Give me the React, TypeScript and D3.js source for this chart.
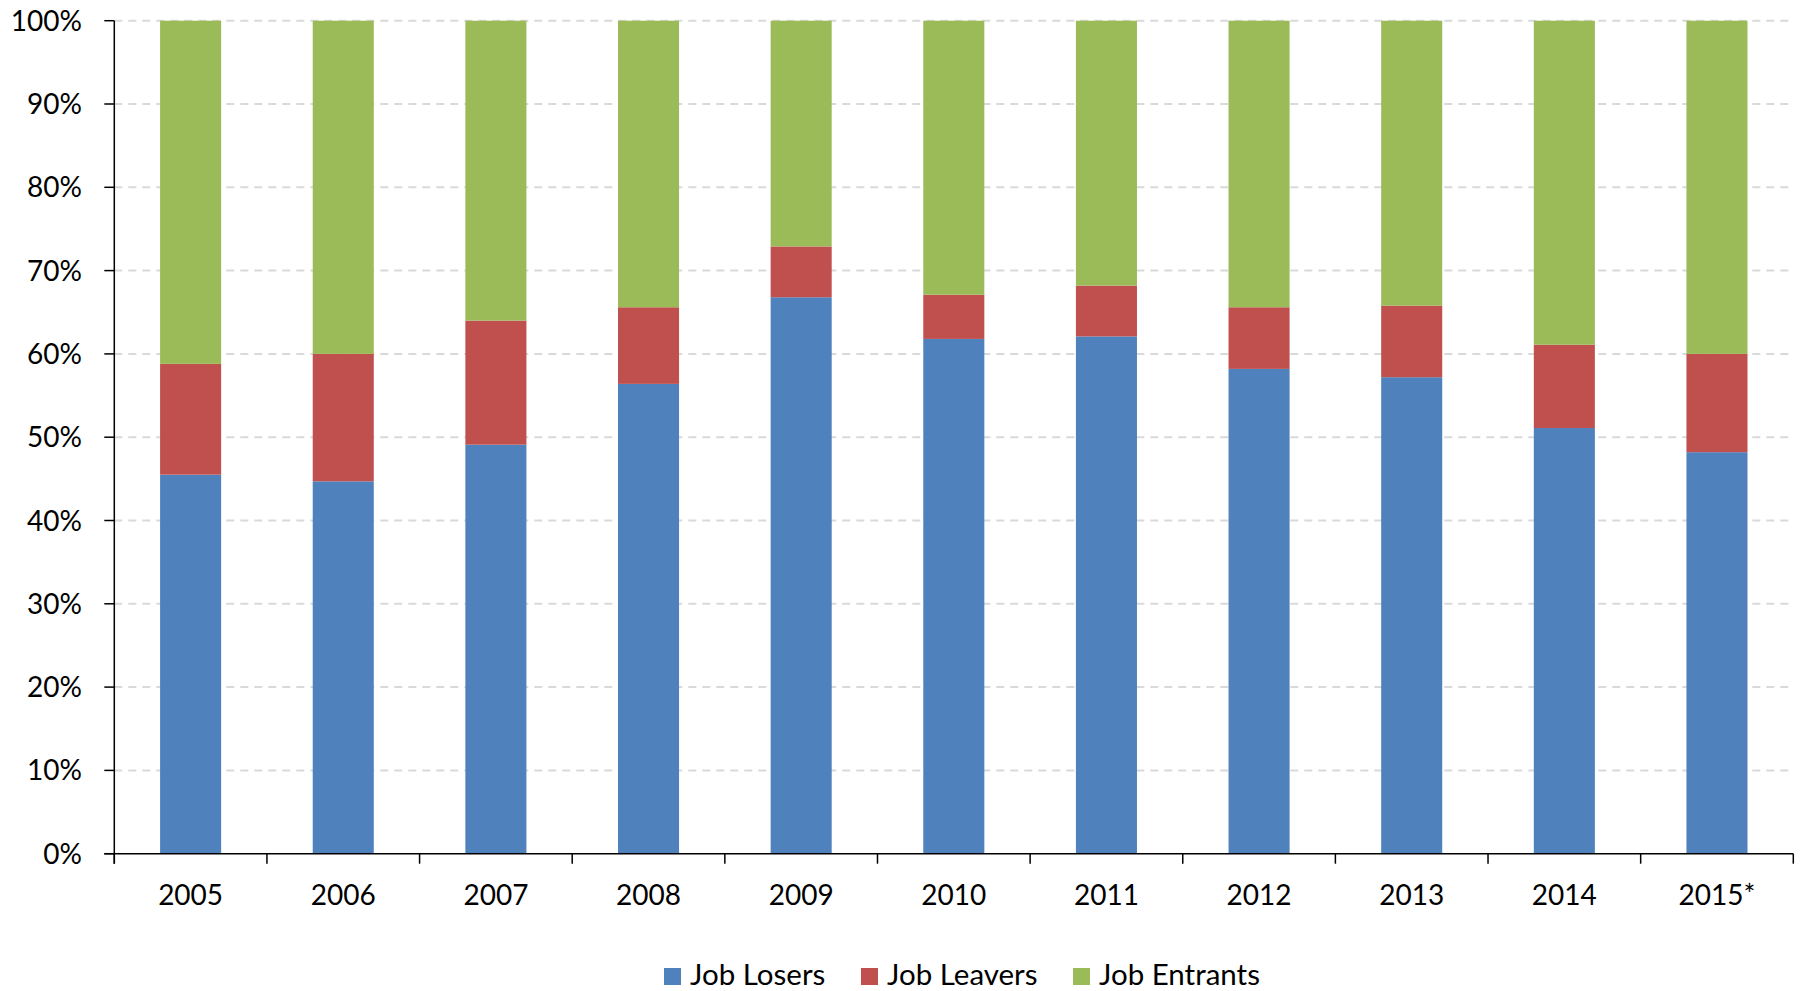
import React from "react";
import * as d3 from "d3";

const categories = ["2005", "2006", "2007", "2008", "2009", "2010", "2011", "2012", "2013", "2014", "2015*"];
const jobLosers = [45.5, 44.7, 49.1, 56.4, 66.8, 61.8, 62.1, 58.2, 57.2, 51.1, 48.2];
const jobLeavers = [13.3, 15.3, 14.9, 9.2, 6.1, 5.3, 6.1, 7.4, 8.6, 10.0, 11.8];
const jobEntrants = [41.2, 40.0, 36.0, 34.4, 27.1, 32.9, 31.8, 34.4, 34.2, 38.9, 40.0];
const seriesNames = ["Job Losers", "Job Leavers", "Job Entrants"];
const seriesColors = ["#4F81BD", "#C0504D", "#9BBB59"];
const yTicks = [0, 10, 20, 30, 40, 50, 60, 70, 80, 90, 100];

const W = 1802;
const H = 991;
const left = 114.3;
const right = 1793.3;
const top = 20.7;
const bottom = 853.7;
const FONT = "Lato, 'Open Sans', sans-serif";

export default function App() {
  const x = d3.scaleBand<string>().domain(categories).range([left, right]).paddingInner(0.6).paddingOuter(0.3);
  const y = d3.scaleLinear().domain([0, 100]).range([bottom, top]);

  const rows = categories.map((c, i) => ({
    cat: c,
    "Job Losers": jobLosers[i],
    "Job Leavers": jobLeavers[i],
    "Job Entrants": jobEntrants[i],
  }));
  const stack = d3.stack<any>().keys(seriesNames)(rows);

  const step = x.step();
  const boundaries = d3.range(categories.length + 1).map((i) => left + i * step);

  const legendX = [664, 861, 1073];

  return (
    <svg width={W} height={H} style={{ position: "absolute", left: 0, top: 0 }} fontFamily={FONT}>
      <rect x={0} y={0} width={W} height={H} fill="#fff" />
      {yTicks.filter((t) => t > 0).map((t) => (
        <line key={"g" + t} x1={left} x2={right} y1={y(t)} y2={y(t)} stroke="#D9D9D9" strokeWidth={2} strokeDasharray="8,6" />
      ))}
      {stack.map((s, si) => (
        <g key={s.key} fill={seriesColors[si]}>
          {s.map((d, i) => (
            <rect
              key={i}
              x={x(categories[i])}
              width={x.bandwidth()}
              y={y(Math.min(d[1], 100))}
              height={y(d[0]) - y(Math.min(d[1], 100))}
            />
          ))}
        </g>
      ))}
      <line x1={left} x2={left} y1={top} y2={bottom + 10} stroke="#000" strokeWidth={1.5} />
      {yTicks.map((t) => (
        <g key={"yt" + t}>
          <line x1={left - 10} x2={left} y1={y(t)} y2={y(t)} stroke="#000" strokeWidth={1.5} />
          <text x={82} y={y(t)} dy="0.36em" textAnchor="end" fontSize={28} fill="#000">
            {t + "%"}
          </text>
        </g>
      ))}
      <line x1={left - 10} x2={right} y1={bottom} y2={bottom} stroke="#000" strokeWidth={1.5} />
      {boundaries.map((bx, i) => (
        <line key={"xt" + i} x1={bx} x2={bx} y1={bottom} y2={bottom + 10} stroke="#000" strokeWidth={1.5} />
      ))}
      {categories.map((c) => (
        <text key={"xl" + c} x={(x(c) as number) + x.bandwidth() / 2} y={905} textAnchor="middle" fontSize={28} fill="#000">
          {c}
        </text>
      ))}
      {seriesNames.map((n, i) => (
        <g key={"lg" + n}>
          <rect x={legendX[i]} y={968} width={17} height={17} fill={seriesColors[i]} />
          <text x={legendX[i] + 26} y={985} fontSize={29.5} fill="#000">
            {n}
          </text>
        </g>
      ))}
    </svg>
  );
}
